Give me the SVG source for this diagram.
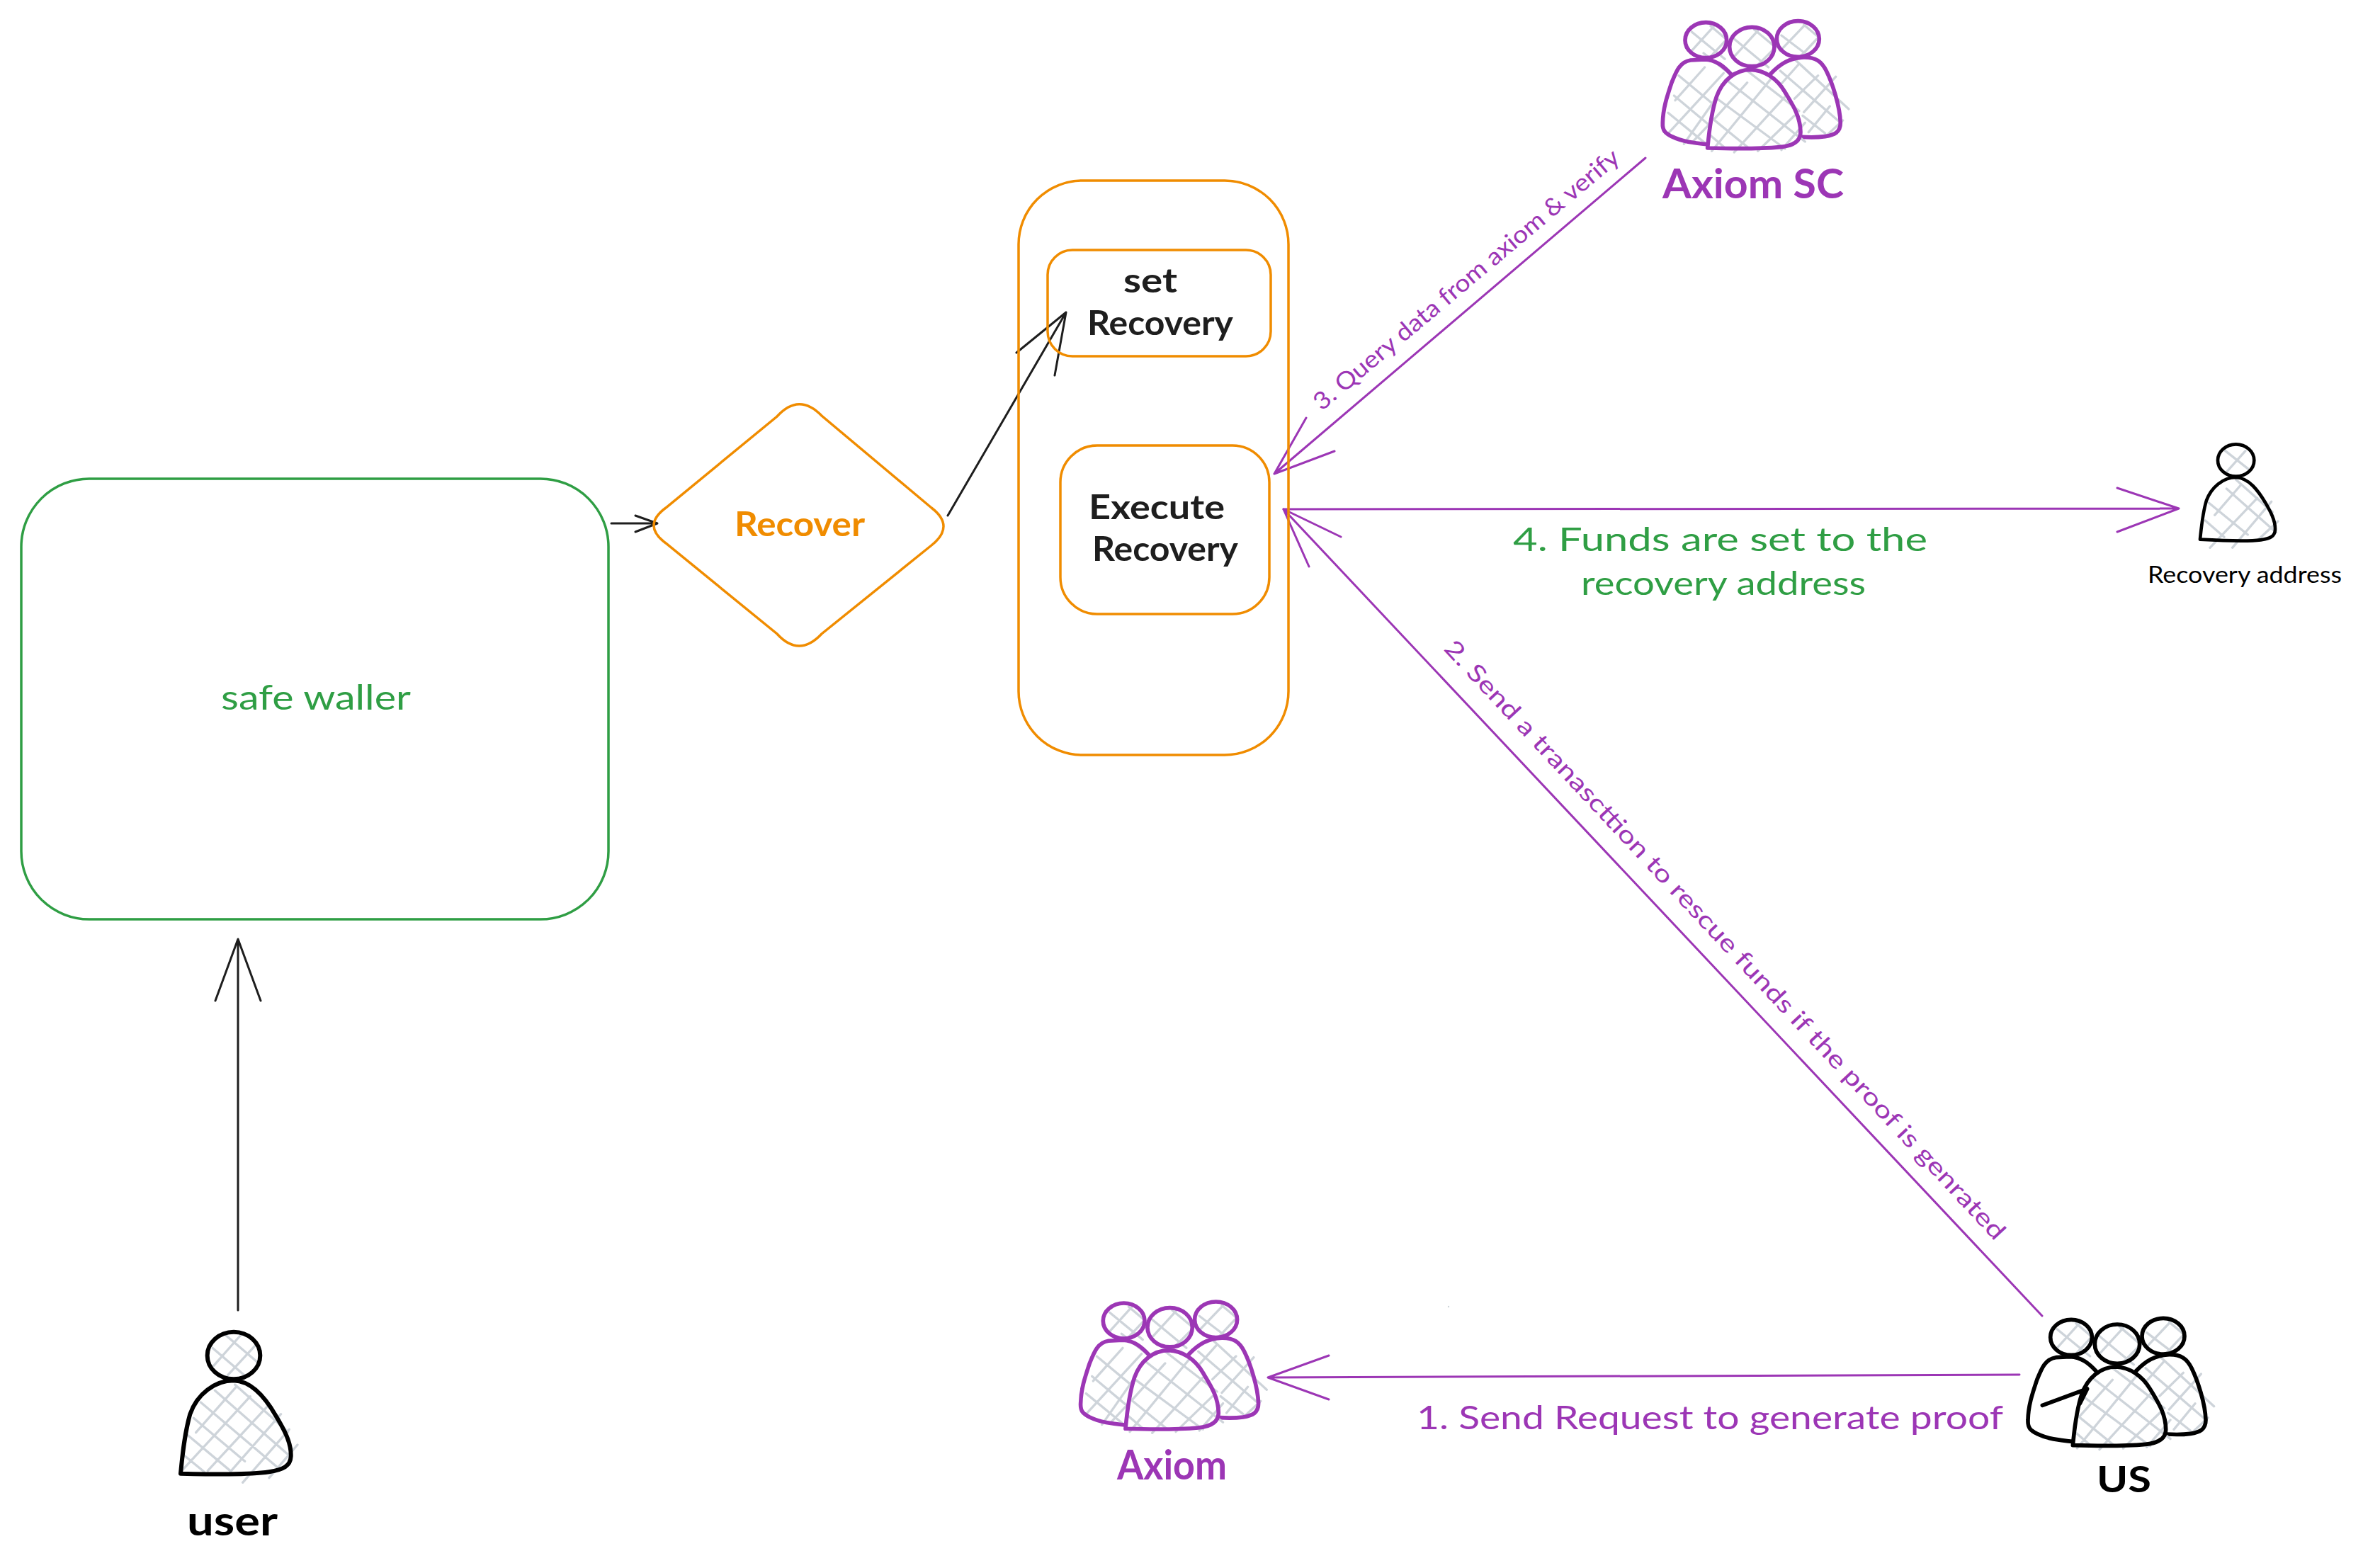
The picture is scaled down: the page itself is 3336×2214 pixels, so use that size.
<svg xmlns="http://www.w3.org/2000/svg" xmlns:xlink="http://www.w3.org/1999/xlink" width="3336" height="2214" viewBox="0 0 3336 2214">
<style>
text{font-family:"Lato","Noto Sans",sans-serif}
.box{fill:none;stroke-width:3.5}
.green{stroke:#2f9e44}
.orange{stroke:#f08c00}
.tg{fill:#2f9e44}.to{fill:#f08c00}.tp{fill:#9c36b5}.tk{fill:#1e1e1e}.t0{fill:#000}
.fs46{font-size:46px}.fs34{font-size:34px}.fs58{font-size:58px;font-weight:700}.fs32{font-size:32px}
.ln{fill:none;stroke-linecap:round;stroke-linejoin:round;stroke-width:3}
.k{stroke:#1e1e1e}.p{stroke:#9c36b5}
.h{fill:none;stroke:#ced4da;stroke-width:10;stroke-linecap:round}
.o{fill:none;stroke:currentColor;stroke-width:17;stroke-linecap:round;stroke-linejoin:round}
.ow{fill:#fff;stroke:none}
.trio-p{color:#9c36b5}.trio-k{color:#000}
</style>
<defs>
<path id="h-heads" class="h" d="M265 135L405 250M345 110L410 165M445 165L590 285M530 125L620 200M645 150L770 245M740 105L800 155M358 112L265 215M405 175L340 245M545 130L440 245M615 205L530 290M745 105L640 215M795 165L725 240"/>
<path id="h-left" class="h" d="M315 225L435 320M210 320L360 445M190 405L345 535M165 478L320 605M320 285L195 425M400 310L170 560M365 420L232 610M345 520L270 600"/>
<path id="h-right" class="h" d="M705 255L930 462M640 300L890 515M735 490L830 565M800 320L700 418M875 325L740 475M850 450L760 560M905 510L835 575M720 270L640 360"/>
<path id="h-mid" class="h" d="M500 300L720 470M420 345L745 600M375 420L660 630M350 500L510 630M340 570L410 630M600 335L350 640M660 410L445 645M700 490L545 640M745 520L645 635M500 350L360 505"/>
<g id="trio-shapes">
<use xlink:href="#h-heads"/>
<use xlink:href="#h-right"/>
<ellipse class="o" cx="325" cy="170" rx="88" ry="75"/>
<ellipse class="o" cx="520" cy="198" rx="95" ry="83"/>
<ellipse class="o" cx="715" cy="165" rx="90" ry="76"/>
<path class="o" d="M432 315C400 280 370 255 320 252L260 255C215 262 200 300 180 350C160 410 143 460 142 520C140 555 155 565 180 578C225 600 270 605 335 612"/>
<path class="o" d="M600 312C640 270 680 245 740 243C790 242 815 260 835 300C860 350 893 450 895 520C895 560 870 572 830 578C800 582 760 582 728 580"/>
<path class="ow" d="M332 627C340 540 350 470 370 410C395 340 450 295 515 295C570 297 625 330 660 390C690 440 725 490 726 560C726 600 690 618 640 623C540 632 440 630 332 627Z"/>
<use xlink:href="#h-mid"/>
<path class="o" d="M332 627C340 540 350 470 370 410C395 340 450 295 515 295C570 297 625 330 660 390C690 440 725 490 726 560C726 600 690 618 640 623C540 632 440 630 332 627Z"/>
</g>
<path id="h-user" class="h" d="M300 190L440 310M355 135L490 250M420 135L305 265M485 175L365 305M395 345L620 545M310 370L630 650M250 420L580 700M220 487L437 670M190 555L375 710M180 645L265 715M230 548L400 355M175 705L460 395M280 710L530 440M375 715L590 470M428 760L625 535M540 740L660 600"/>
</defs>

<g id="connectors">
<path class="ln k" d="M863 739L928 739M897 728L928 739L897 751"/>
<path class="ln k" d="M1338 728L1505 441M1435 498L1505 441L1489 530"/>
<path class="ln k" d="M336 1850L336 1326M304 1413L336 1326L368 1413"/>
<path class="ln p" d="M2323 223L1799 669M1844 590L1799 669L1884 637"/>
<path class="ln p" d="M1812 719L3076 718M2989 689L3076 718L2989 751"/>
<path class="ln p" d="M2883 1858L1812 719M1893 758L1812 719L1848 800"/>
<path class="ln p" d="M2851 1941L1790 1945M1876 1914L1790 1945L1876 1976"/>
</g>

<g id="safe-wallet">
<rect class="box green" x="30" y="676" width="829" height="622" rx="96" ry="96"/>
<text class="tg" style="font-size:48px" x="312" y="1002" textLength="268" lengthAdjust="spacingAndGlyphs">safe waller</text>
</g>

<g id="recover">
<path class="box orange" d="M1097 588Q1128 554 1160 587L1315 717Q1349 743 1315 770L1160 895Q1128 929 1097 895L940 767Q906 742 940 717Z"/>
<text class="to" style="font-size:47px;font-weight:700" x="1037" y="757" textLength="184" lengthAdjust="spacingAndGlyphs">Recover</text>
</g>

<g id="recovery-module">
<rect class="box orange" x="1438" y="255" width="381" height="811" rx="90" ry="90"/>
</g>

<g id="set-recovery">
<rect class="box orange" x="1479" y="353" width="315" height="150" rx="35" ry="35"/>
<text class="tk" style="font-size:48px;font-weight:700" x="1586" y="413" textLength="76" lengthAdjust="spacingAndGlyphs">set</text>
<text class="tk" style="font-size:48px;font-weight:700" x="1535" y="473" textLength="206" lengthAdjust="spacingAndGlyphs">Recovery</text>
</g>

<g id="execute-recovery">
<rect class="box orange" x="1497" y="629" width="295" height="238" rx="52" ry="52"/>
<text class="tk" style="font-size:48px;font-weight:700" x="1537" y="733" textLength="192" lengthAdjust="spacingAndGlyphs">Execute</text>
<text class="tk" style="font-size:48px;font-weight:700" x="1542" y="792" textLength="206" lengthAdjust="spacingAndGlyphs">Recovery</text>
</g>

<g id="axiom-sc" class="trio-p">
<g transform="translate(2300 0) scale(.3333)">
<use xlink:href="#h-left"/>
<use xlink:href="#trio-shapes"/>
</g>
<text class="tp fs58" x="2347" y="280" textLength="256" lengthAdjust="spacingAndGlyphs">Axiom SC</text>
</g>

<g id="axiom" class="trio-p">
<g transform="translate(1478.3 1808.3) scale(.3333)">
<use xlink:href="#h-left"/>
<use xlink:href="#trio-shapes"/>
</g>
<text class="tp fs58" x="1577" y="2089" textLength="155" lengthAdjust="spacingAndGlyphs">Axiom</text>
</g>

<g id="us" class="trio-k">
<g transform="translate(2815.7 1831.7) scale(.3333)">
<use xlink:href="#trio-shapes"/>
<path class="o" d="M203 458L393 388L362 450"/>
</g>
<text class="t0" style="font-size:52px;font-weight:700" x="2960" y="2107" textLength="77" lengthAdjust="spacingAndGlyphs">US</text>
</g>

<g id="user" style="color:#000">
<g transform="translate(200 1840) scale(.3333)">
<use xlink:href="#h-user"/>
<ellipse class="o" style="stroke-width:18" cx="390" cy="222" rx="112" ry="100"/>
<path class="o" style="stroke-width:18" d="M165 722C172 650 180 560 205 470C235 385 310 328 390 328C470 330 530 410 570 480C600 530 635 590 632 650C630 690 600 705 540 715C450 728 300 725 165 722Z"/>
</g>
<text class="t0" style="font-size:58px;font-weight:700" x="264" y="2168" textLength="128" lengthAdjust="spacingAndGlyphs">user</text>
</g>

<g id="recovery-address" style="color:#000">
<g transform="translate(3000 600) scale(.3333)">
<path class="h" d="M425 110L520 185M510 110L425 205M470 232L625 370M430 270L640 455M355 330L520 465M340 405L420 475M490 255L380 382M560 310L360 520M620 325L455 520M648 408L560 490"/>
<ellipse class="o" style="stroke-width:14" cx="470" cy="150" rx="77" ry="68"/>
<path class="o" style="stroke-width:14" d="M318 485C323 440 328 375 345 320C365 265 415 222 470 222C525 224 565 280 595 330C615 365 638 405 636 445C634 472 615 482 575 487C515 495 410 490 318 485Z"/>
</g>
<text class="t0 fs32" x="3032" y="823" textLength="274" lengthAdjust="spacingAndGlyphs">Recovery address</text>
</g>

<g id="labels">
<text class="tp fs46" x="2000" y="2018" textLength="828" lengthAdjust="spacingAndGlyphs">1. Send Request to generate proof</text>
<text class="tg fs46" x="2136" y="778" textLength="585" lengthAdjust="spacingAndGlyphs">4. Funds are set to the</text>
<text class="tg fs46" x="2232" y="840" textLength="402" lengthAdjust="spacingAndGlyphs">recovery address</text>
<text class="tp fs34" transform="translate(1866 581) rotate(-40)" textLength="552" lengthAdjust="spacingAndGlyphs">3. Query data from axiom &amp; verify</text>
<text class="tp fs34" transform="translate(2037 917) rotate(47)" textLength="1143" lengthAdjust="spacingAndGlyphs">2. Send a tranascttion to rescue funds if the proof is genrated</text>
</g>
<circle id="speck" cx="2045" cy="1845" r="1.2" fill="#ced4da"/>
</svg>
